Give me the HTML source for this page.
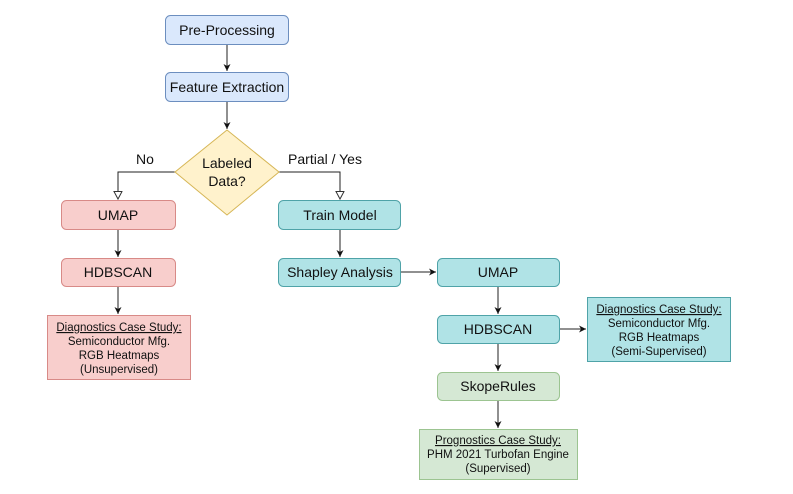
<!DOCTYPE html>
<html><head><meta charset="utf-8"><style>
html,body{margin:0;padding:0;background:#fff}
svg{display:block}
text{font-family:"Liberation Sans",Arial,sans-serif;fill:#111}
.b{font-size:14px}
.s{font-size:11.5px}
</style></head><body>
<svg width="793" height="494" viewBox="0 0 793 494" xmlns="http://www.w3.org/2000/svg">
<defs>
<marker id="a" markerWidth="8" markerHeight="8" refX="7" refY="4" orient="auto" markerUnits="userSpaceOnUse"><path d="M0,0.5 L7,4 L0,7.5 L2,4 Z" fill="#111"/></marker>
<marker id="o" markerWidth="10" markerHeight="10" refX="8" refY="4.5" orient="auto" markerUnits="userSpaceOnUse"><path d="M0.5,0.5 L8,4.5 L0.5,8.5 Z" fill="#fff" stroke="#333" stroke-width="1"/></marker>
</defs>
<g stroke="#222" stroke-width="1" fill="none">
<line x1="227" y1="44" x2="227" y2="71" marker-end="url(#a)"/>
<line x1="227" y1="101" x2="227" y2="129" marker-end="url(#a)"/>
<polyline points="175,172 118,172 118,199" marker-end="url(#o)"/>
<polyline points="279,172 340,172 340,199" marker-end="url(#o)"/>
<line x1="118" y1="229" x2="118" y2="257" marker-end="url(#a)"/>
<line x1="118" y1="286" x2="118" y2="314" marker-end="url(#a)"/>
<line x1="340" y1="229" x2="340" y2="257" marker-end="url(#a)"/>
<line x1="401" y1="272" x2="436" y2="272" marker-end="url(#a)"/>
<line x1="498" y1="286" x2="498" y2="314" marker-end="url(#a)"/>
<line x1="559" y1="329" x2="586" y2="329" marker-end="url(#a)"/>
<line x1="498" y1="343" x2="498" y2="371" marker-end="url(#a)"/>
<line x1="498" y1="400" x2="498" y2="428" marker-end="url(#a)"/>
</g>
<rect x="165.5" y="15.5" width="123" height="29" rx="5" fill="#dae8fc" stroke="#6c8ebf"/>
<text class="b" x="227" y="35" text-anchor="middle">Pre-Processing</text>
<rect x="165.5" y="72.5" width="123" height="29" rx="5" fill="#dae8fc" stroke="#6c8ebf"/>
<text class="b" x="227" y="92" text-anchor="middle">Feature Extraction</text>
<polygon points="227,130 279,172 227,215 175,172" fill="#fff2cc" stroke="#d6b656"/>
<text class="b" x="227" y="168" text-anchor="middle">Labeled</text>
<text class="b" x="227" y="186" text-anchor="middle">Data?</text>
<text class="b" x="145" y="164" text-anchor="middle">No</text>
<text class="b" x="325" y="164" text-anchor="middle">Partial / Yes</text>
<rect x="61.5" y="200.5" width="114" height="29" rx="5" fill="#f8cecc" stroke="#d88a87"/>
<text class="b" x="118" y="220" text-anchor="middle">UMAP</text>
<rect x="61.5" y="258.5" width="114" height="28" rx="5" fill="#f8cecc" stroke="#d88a87"/>
<text class="b" x="118" y="277" text-anchor="middle">HDBSCAN</text>
<rect x="47.5" y="315.5" width="143" height="64" fill="#f8cecc" stroke="#d88a87"/>
<text class="s" x="119" y="331" text-anchor="middle" text-decoration="underline">Diagnostics Case Study:</text>
<text class="s" x="119" y="345" text-anchor="middle">Semiconductor Mfg.</text>
<text class="s" x="119" y="359" text-anchor="middle">RGB Heatmaps</text>
<text class="s" x="119" y="373" text-anchor="middle">(Unsupervised)</text>
<rect x="278.5" y="200.5" width="122" height="29" rx="5" fill="#b0e3e6" stroke="#4fa3a8"/>
<text class="b" x="340" y="220" text-anchor="middle">Train Model</text>
<rect x="278.5" y="258.5" width="122" height="28" rx="5" fill="#b0e3e6" stroke="#4fa3a8"/>
<text class="b" x="340" y="277" text-anchor="middle">Shapley Analysis</text>
<rect x="437.5" y="258.5" width="122" height="28" rx="5" fill="#b0e3e6" stroke="#4fa3a8"/>
<text class="b" x="498" y="277" text-anchor="middle">UMAP</text>
<rect x="437.5" y="315.5" width="122" height="28" rx="5" fill="#b0e3e6" stroke="#4fa3a8"/>
<text class="b" x="498" y="334" text-anchor="middle">HDBSCAN</text>
<rect x="587.5" y="297.5" width="143" height="64" fill="#b0e3e6" stroke="#4fa3a8"/>
<text class="s" x="659" y="313" text-anchor="middle" text-decoration="underline">Diagnostics Case Study:</text>
<text class="s" x="659" y="327" text-anchor="middle">Semiconductor Mfg.</text>
<text class="s" x="659" y="341" text-anchor="middle">RGB Heatmaps</text>
<text class="s" x="659" y="355" text-anchor="middle">(Semi-Supervised)</text>
<rect x="437.5" y="372.5" width="122" height="28" rx="5" fill="#d5e8d4" stroke="#9cc491"/>
<text class="b" x="498" y="391" text-anchor="middle">SkopeRules</text>
<rect x="419.5" y="429.5" width="158" height="50" fill="#d5e8d4" stroke="#9cc491"/>
<text class="s" x="498" y="444" text-anchor="middle" text-decoration="underline">Prognostics Case Study:</text>
<text class="s" x="498" y="458" text-anchor="middle">PHM 2021 Turbofan Engine</text>
<text class="s" x="498" y="472" text-anchor="middle">(Supervised)</text>
</svg>
</body></html>
